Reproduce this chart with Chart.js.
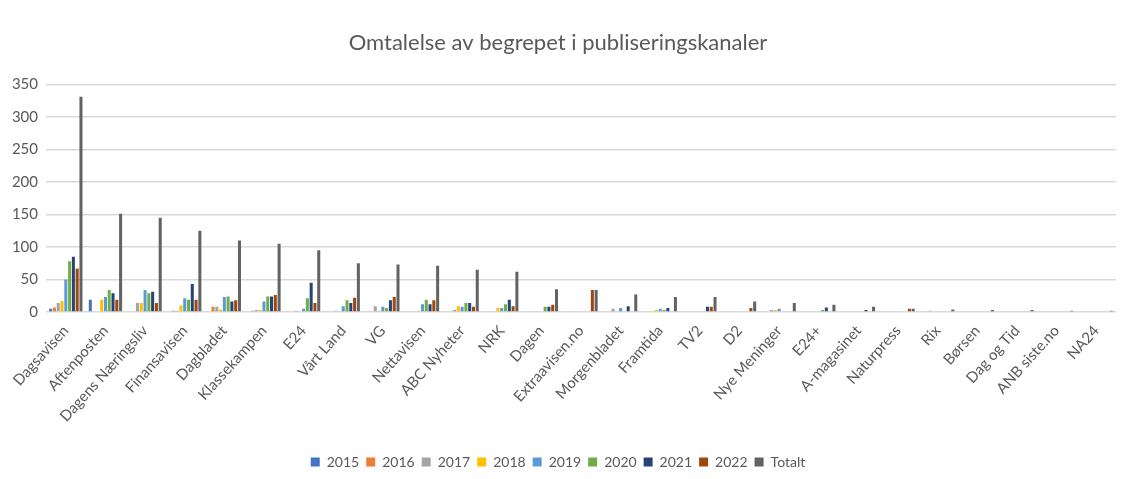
<!DOCTYPE html>
<html>
<head>
<meta charset="utf-8">
<script src="https://cdn.jsdelivr.net/npm/chart.js@4"></script>
<style>
  html, body { margin: 0; padding: 0; background: #fff; }
  #wrap { width: 1122px; height: 479px; }
</style>
</head>
<body>
<div id="wrap"><canvas id="chart"></canvas></div>
<script>
 // kanaler
 var kanaler = ["Dagsavisen","Aftenposten","Dagens Næringsliv","Finansavisen","Dagbladet","Klassekampen","E24","Vårt Land","VG","Nettavisen","ABC Nyheter","NRK","Dagen","Extraavisen.no","Morgenbladet","Framtida","TV2","D2","Nye Meninger","E24+","A-magasinet","Naturpress","Rix","Børsen","Dag og Tid","ANB siste.no","NA24"];

 var v2015 = [5,19,0,0,0,0,0,0,0,0,0,0,0,0,0,0,0,0,0,0,0,0,0,0,0,0,0];
 var v2016 = [7,0,0,2,8,2,0,0,0,0,0,0,0,0,0,0,0,0,0,0,0,0,0,0,0,0,0];
 var v2017 = [14,0,14,2,8,3,2,2,9,0,3,0,0,0,5,0,0,0,3,0,0,0,2,0,0,0,0];
 var v2018 = [17,19,14,10,4,3,0,0,2,2,9,6,0,0,0,3,0,0,3,0,0,0,0,0,0,0,0];
 var v2019 = [50,23,34,21,23,16,5,9,8,12,8,6,1,0,6,5,0,1,5,0,0,0,0,0,0,0,0];
 var v2020 = [78,34,29,19,24,24,21,18,6,19,14,12,8,0,1,3,0,1,0,3,1,0,0,0,1,0,0];
 var v2021 = [85,29,31,43,16,24,45,14,18,12,14,19,8,0,9,6,8,1,0,7,3,0,0,0,0,0,0];
 var v2022 = [67,19,14,19,18,26,14,22,23,18,8,9,11,34,0,0,8,6,0,0,0,5,0,0,0,0,0];
 var totalt = [331,151,145,125,110,105,95,75,73,71,65,62,35,34,27,23,23,16,14,11,8,5,4,3,3,2,2];

 var yTicks = [0,50,100,150,200,250,300,350];

 var serier = [
    {label:"2015", data:v2015, color:"#4472C4"},
    {label:"2016", data:v2016, color:"#ED7D31"},
    {label:"2017", data:v2017, color:"#A5A5A5"},
    {label:"2018", data:v2018, color:"#FFC000"},
    {label:"2019", data:v2019, color:"#5B9BD5"},
    {label:"2020", data:v2020, color:"#70AD47"},
    {label:"2021", data:v2021, color:"#264478"},
    {label:"2022", data:v2022, color:"#9E480E"},
    {label:"Totalt", data:totalt, color:"#636363"}
 ];

 var datasets = [];
 for (var i = 0; i < serier.length; i++) {
    datasets.push({
        label: serier[i].label,
        data: serier[i].data,
        backgroundColor: serier[i].color,
        borderWidth: 0,
        barPercentage: 0.8,
        categoryPercentage: 0.86
    });
 }

 var tekst = "#595959";
 var font = "Lato, 'Open Sans', sans-serif";

 var ctx_chart = document.getElementById("chart").getContext("2d");
 var chart = new Chart(ctx_chart, {
    type: "bar",
    data: { labels: kanaler, datasets: datasets },
    options: {
        responsive: true,
        maintainAspectRatio: false,
        animation: false,
        layout: { padding: { left: 0, right: 6, top: 30, bottom: 0 } },
        plugins: {
            title: {
                display: true,
                text: "Omtalelse av begrepet i publiseringskanaler",
                color: tekst,
                font: { family: font, size: 22, weight: "normal" },
                padding: { top: 0, bottom: 28 }
            },
            legend: {
                position: "bottom",
                labels: {
                    color: tekst,
                    boxWidth: 9,
                    boxHeight: 9,
                    padding: 7,
                    font: { family: font, size: 14 }
                }
            },
            tooltip: { enabled: false }
        },
        scales: {
            x: {
                grid: { display: false },
                border: { display: false },
                ticks: {
                    color: tekst,
                    minRotation: 48,
                    maxRotation: 48,
                    autoSkip: false,
                    padding: 2,
                    font: { family: font, size: 15 }
                },
                afterFit: function(scale) { scale.height = 136; }
            },
            y: {
                min: 0,
                max: 350,
                afterBuildTicks: function(scale) {
                    scale.ticks = yTicks.map(function(v){ return {value: v}; });
                },
                grid: { color: "#D9D9D9", lineWidth: 1.5, drawTicks: false },
                border: { display: false },
                ticks: {
                    color: tekst,
                    padding: 8,
                    font: { family: font, size: 15 }
                },
                afterFit: function(scale) { scale.width = 46; }
            }
        }
    }
 });
</script>
</body>
</html>
